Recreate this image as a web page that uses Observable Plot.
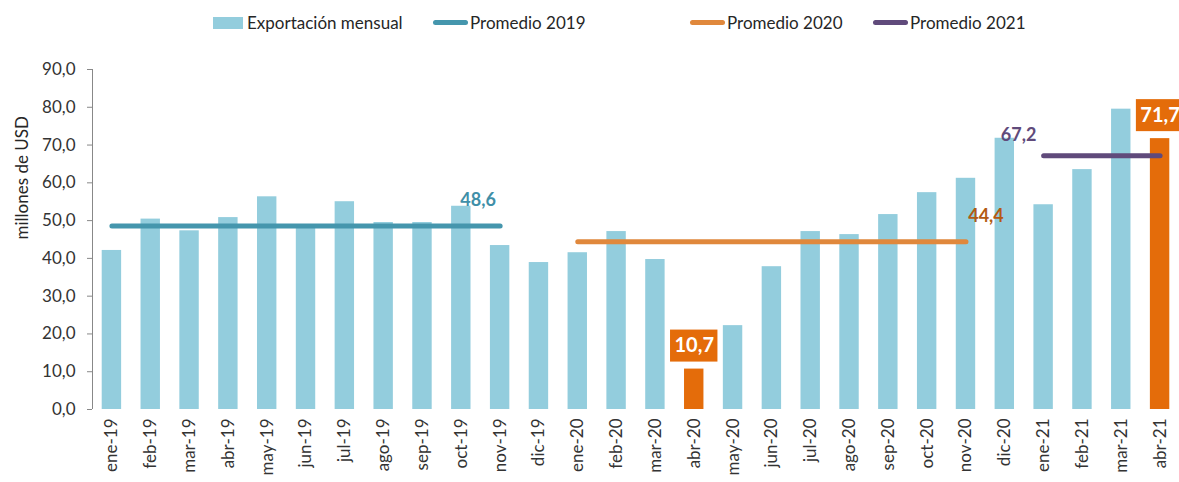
<!DOCTYPE html>
<html><head><meta charset="utf-8">
<script src="https://cdn.jsdelivr.net/npm/d3@7"></script>
<script src="https://cdn.jsdelivr.net/npm/@observablehq/plot@0.6"></script>
<style>
body{margin:0;background:#fff;font-family:Lato,"Noto Sans",sans-serif;}
#legend{position:relative;height:45px;width:1179px;font-size:17px;color:#262626;}
.item{position:absolute;top:12px;display:flex;align-items:center;white-space:nowrap;}
.sw{display:inline-block;margin-right:3px;}
</style></head><body>
<div id="legend"></div>
<div id="chart"></div>
<script>
const months = ["ene-19","feb-19","mar-19","abr-19","may-19","jun-19","jul-19","ago-19","sep-19","oct-19","nov-19","dic-19",
"ene-20","feb-20","mar-20","abr-20","may-20","jun-20","jul-20","ago-20","sep-20","oct-20","nov-20","dic-20",
"ene-21","feb-21","mar-21","abr-21"];
const exports = [42.1,50.4,47.3,50.8,56.3,48.2,55.0,49.5,49.5,53.8,43.4,38.9,
41.5,47.1,39.7,10.7,22.2,37.8,47.1,46.3,51.6,57.4,61.2,71.8,
54.2,63.5,79.5,71.7];
const highlighted = ["abr-20","abr-21"];
const avgNames = ["Promedio 2019","Promedio 2020","Promedio 2021"];
const avgValues = [48.6,44.4,67.2];
const avgStart = ["ene-19","ene-20","ene-21"];
const avgEnd = ["nov-19","nov-20","abr-21"];
const yTicks = [0,10,20,30,40,50,60,70,80,90];

const barColor = "#93cddd", hiColor = "#e46c0a";
const avgColors = ["#4596ad","#e0883c","#604a7b"];
const avgLabelColors = ["#3f8fa8","#b35a12","#604a7b"];

const fmt = v => v.toFixed(1).replace(".", ",");
const data = months.map((m,i)=>({m, v: exports[i], hi: highlighted.includes(m)}));
const lines = avgNames.flatMap((n,i)=>[{n, m: avgStart[i], v: avgValues[i]},{n, m: avgEnd[i], v: avgValues[i]}]);
const avgLabels = avgNames.map((n,i)=>({n, m: avgEnd[i] === "abr-21" ? "ene-21" : avgEnd[i], v: avgValues[i], c: avgLabelColors[i]}));
const avgDx = [-22, 20, -25], avgDy = [-26, -26, -20];
const hiData = data.filter(d=>d.hi);

// legend
const leg = document.getElementById("legend");
const items = [
 {label:"Exportación mensual", type:"rect", color: barColor, left:213},
 {label:avgNames[0], type:"line", color: avgColors[0], left:433},
 {label:avgNames[1], type:"line", color: avgColors[1], left:690},
 {label:avgNames[2], type:"line", color: avgColors[2], left:873}];
for (const it of items){
  const d = document.createElement("div"); d.className="item"; d.style.left = it.left+"px";
  const s = document.createElement("span"); s.className="sw";
  if (it.type==="rect"){ s.style.width="30px"; s.style.height="12px"; s.style.background=it.color; s.style.marginRight="4px"; }
  else { s.style.width="35px"; s.style.height="5px"; s.style.borderRadius="3px"; s.style.background=it.color; s.style.marginRight="2px"; }
  d.appendChild(s); d.appendChild(document.createTextNode(it.label)); leg.appendChild(d);
}

const W = 1179, ML = 92;
const step = (W - ML) / months.length;

const chart = Plot.plot({
  width: W, height: 437,
  marginLeft: ML, marginRight: 0, marginTop: 24, marginBottom: 73,
  style: {fontFamily: "Lato, 'Noto Sans', sans-serif", fontSize: "17px", color: "#333", background: "#fff"},
  x: {domain: months, paddingInner: 0.5, paddingOuter: 0.25, round: false, label: null},
  y: {domain: [0, 90], label: null},
  marks: [
    Plot.axisY({ticks: yTicks, tickFormat: fmt, tickSize: 5, tickPadding: 12, stroke: "#888", label: null, fontSize: 17, fill: "#333"}),
    Plot.ruleX([months[0]], {y1: 0, y2: 90, stroke: "#888", dx: -step / 2}),
    Plot.axisX({tickRotate: -90, tickSize: 0, tickPadding: 9, label: null, fontSize: 17, fill: "#333"}),
    Plot.text(["millones de USD"], {frameAnchor: "left", rotate: -90, dx: -70, fontSize: 17, fill: "#262626"}),
    Plot.barY(data, {x: "m", y: "v", fill: d => d.hi ? hiColor : barColor}),
    Plot.line(lines, {x: "m", y: "v", z: "n", stroke: d => avgColors[avgNames.indexOf(d.n)], strokeWidth: 5, strokeLinecap: "round"}),
    ...avgLabels.map((d,i)=>Plot.text([d], {x: "m", y: "v", text: d=>fmt(d.v), fill: d.c, fontWeight: "bold", fontSize: 18, dx: avgDx[i], dy: avgDy[i]})),
    Plot.barY(hiData, {x: "m", y1: "v", y2: "v", fill: hiColor, insetTop: -39, insetBottom: 7, insetLeft: -14, insetRight: -14}),
    Plot.text(hiData, {x: "m", y: "v", text: d=>fmt(d.v), fill: "#fff", fontWeight: "bold", fontSize: 20, dy: -23})
  ]
});
document.getElementById("chart").appendChild(chart);
</script>
</body></html>
